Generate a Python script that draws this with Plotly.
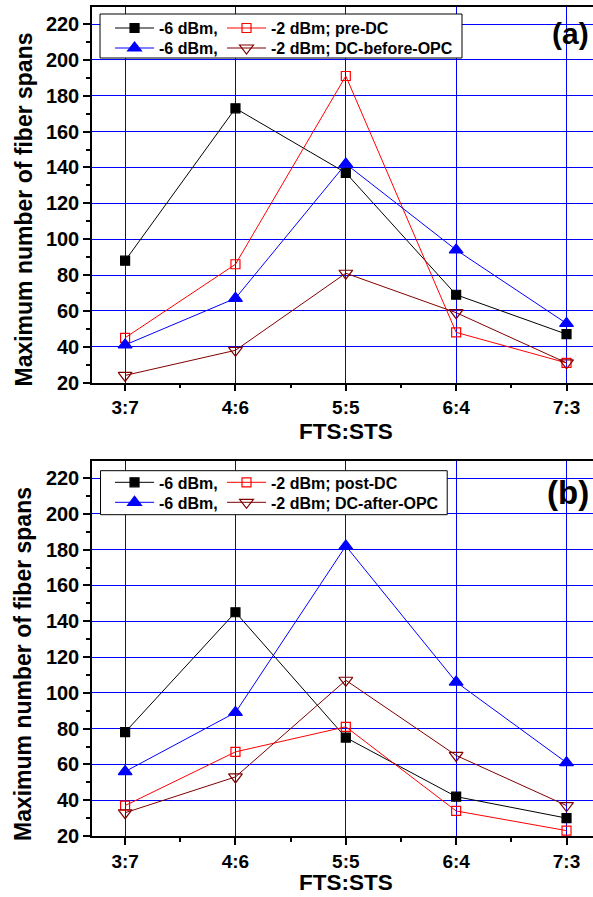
import plotly.graph_objects as go

categories = ["3:7", "4:6", "5:5", "6:4", "7:3"]

# Panel (a)
a_m6_pre = [88, 173, 137, 69, 47]      # -6 dBm, pre-DC (black)
a_m2_pre = [45, 86, 191, 48, 31]       # -2 dBm, pre-DC (red)
a_m6_dcb = [41, 67, 142, 94, 53]       # -6 dBm, DC-before-OPC (blue)
a_m2_dcb = [24, 38, 81, 59, 31]        # -2 dBm, DC-before-OPC (brown)

# Panel (b)
b_m6_post = [78, 145, 75, 42, 30]      # -6 dBm, post-DC (black)
b_m2_post = [37, 67, 81, 34, 23]       # -2 dBm, post-DC (red)
b_m6_dca = [56, 89, 182, 106, 61]      # -6 dBm, DC-after-OPC (blue)
b_m2_dca = [33, 53, 107, 65, 37]       # -2 dBm, DC-after-OPC (brown)

y_ticks = [20, 40, 60, 80, 100, 120, 140, 160, 180, 200, 220]

xpos = list(range(len(categories)))
FONT = "Liberation Sans, Arial, sans-serif"
BROWN = "#800000"
GRID = "rgb(0,0,255)"

styles = [
    dict(color="black", symbol="square", size=9),
    dict(color="red", symbol="square-open", size=9),
    dict(color="blue", symbol="triangle-up", size=12),
    dict(color=BROWN, symbol="triangle-down-open", size=12),
]

fig = go.Figure()

def add(vals, st, name, xa, ya, leg):
    fig.add_trace(go.Scatter(
        x=xpos, y=vals, mode="lines+markers", name=name,
        line=dict(color=st["color"], width=1),
        marker=dict(color=st["color"], symbol=st["symbol"], size=st["size"],
                    line=dict(color=st["color"], width=1.2)),
        xaxis=xa, yaxis=ya, legend=leg,
    ))

add(a_m6_pre, styles[0], "-6 dBm,", "x", "y", "legend")
add(a_m2_pre, styles[1], "-2 dBm; pre-DC", "x", "y", "legend2")
add(a_m6_dcb, styles[2], "-6 dBm,", "x", "y", "legend3")
add(a_m2_dcb, styles[3], "-2 dBm; DC-before-OPC", "x", "y", "legend4")

add(b_m6_post, styles[0], "-6 dBm,", "x2", "y2", "legend5")
add(b_m2_post, styles[1], "-2 dBm; post-DC", "x2", "y2", "legend6")
add(b_m6_dca, styles[2], "-6 dBm,", "x2", "y2", "legend7")
add(b_m2_dca, styles[3], "-2 dBm; DC-after-OPC", "x2", "y2", "legend8")

xtickfont = dict(family=FONT, size=19, color="black", weight="bold")
ytickfont = dict(family=FONT, size=20, color="black", weight="bold")

xaxis_common = dict(
    range=[-0.3, 4.24], tickmode="array", tickvals=xpos, ticktext=categories,
    showgrid=True, gridcolor=GRID, gridwidth=1,
    showline=True, linecolor="black", linewidth=1.5, mirror=True,
    ticks="outside", ticklen=7, tickwidth=1.5, tickcolor="black",
    minor=dict(tickvals=[0.5, 1.5, 2.5, 3.5], ticks="outside", ticklen=4,
               tickwidth=1.5, tickcolor="black", showgrid=False),
    tickfont=xtickfont, zeroline=False,
)
yaxis_common = dict(
    range=[20, 229.5], tickmode="array", tickvals=y_ticks,
    showgrid=True, gridcolor=GRID, gridwidth=1,
    showline=True, linecolor="black", linewidth=1.5, mirror=False,
    ticks="outside", ticklen=7, tickwidth=1.5, tickcolor="black",
    minor=dict(dtick=10, tick0=10, ticks="outside", ticklen=4, tickwidth=1.5,
               tickcolor="black", showgrid=False),
    tickfont=ytickfont, zeroline=False,
)

legfont = dict(family=FONT, size=16, color="black", weight="bold")

def leg(x, y):
    return dict(orientation="v", x=x, xanchor="left", y=y, yanchor="top",
                bgcolor="rgba(0,0,0,0)", borderwidth=0,
                font=legfont, itemwidth=39, tracegroupgap=0)

PLOT_T, PLOT_B = 7, 61
PLOT_H = 897 - PLOT_T - PLOT_B

def py(px):
    return 1 - (px - PLOT_T) / PLOT_H

COL1, COL2 = 0.036, 0.2595
OFF = 16.9  # item centre below legend top

title_font = dict(family=FONT, size=23, color="black", weight="bold")
xtitle_font = dict(family=FONT, size=22.5, color="black", weight="bold")

fig.update_layout(
    template="none",
    width=593, height=897,
    margin=dict(l=92, r=0, t=PLOT_T, b=PLOT_B, pad=0),
    paper_bgcolor="white", plot_bgcolor="white",
    showlegend=True,
    xaxis=dict(domain=[0, 1], anchor="y", **xaxis_common),
    yaxis=dict(domain=[py(382.6), 1], anchor="x", **yaxis_common),
    xaxis2=dict(domain=[0, 1], anchor="y2", **xaxis_common),
    yaxis2=dict(domain=[0, py(461)], anchor="x2", **yaxis_common),
    legend=leg(COL1, py(28 - OFF)),
    legend2=leg(COL2, py(28 - OFF)),
    legend3=leg(COL1, py(48 - OFF)),
    legend4=leg(COL2, py(48 - OFF)),
    legend5=leg(COL1, py(482.3 - OFF)),
    legend6=leg(COL2, py(482.3 - OFF)),
    legend7=leg(COL1, py(502.3 - OFF)),
    legend8=leg(COL2, py(502.3 - OFF)),
    shapes=[
        dict(type="rect", xref="paper", yref="paper", x0=0.016, x1=0.7385,
             y0=py(58), y1=py(14), fillcolor="white",
             line=dict(color="black", width=1), layer="above"),
        dict(type="rect", xref="paper", yref="paper", x0=0.017, x1=0.709,
             y0=py(514.7), y1=py(470.7), fillcolor="white",
             line=dict(color="black", width=1), layer="above"),
    ],
    annotations=[
        dict(text="Maximum number of fiber spans", xref="paper", yref="paper",
             x=-0.1377, y=py(209.5), xanchor="center", yanchor="middle",
             textangle=-90, showarrow=False, font=title_font),
        dict(text="Maximum number of fiber spans", xref="paper", yref="paper",
             x=-0.1377, y=py(664), xanchor="center", yanchor="middle",
             textangle=-90, showarrow=False, font=title_font),
        dict(text="FTS:STS", xref="paper", yref="paper", x=0.507, y=py(431),
             xanchor="center", yanchor="middle", showarrow=False,
             font=xtitle_font),
        dict(text="FTS:STS", xref="paper", yref="paper", x=0.507, y=py(882.5),
             xanchor="center", yanchor="middle", showarrow=False,
             font=xtitle_font),
        dict(text="(a)", xref="paper", yref="paper", x=0.956, y=py(33.5),
             xanchor="center", yanchor="middle", showarrow=False,
             font=dict(family=FONT, size=30, color="black", weight="bold")),
        dict(text="(b)", xref="paper", yref="paper", x=0.950, y=py(492),
             xanchor="center", yanchor="middle", showarrow=False,
             font=dict(family=FONT, size=33, color="black", weight="bold")),
    ],
)

fig.write_html("out.html")
